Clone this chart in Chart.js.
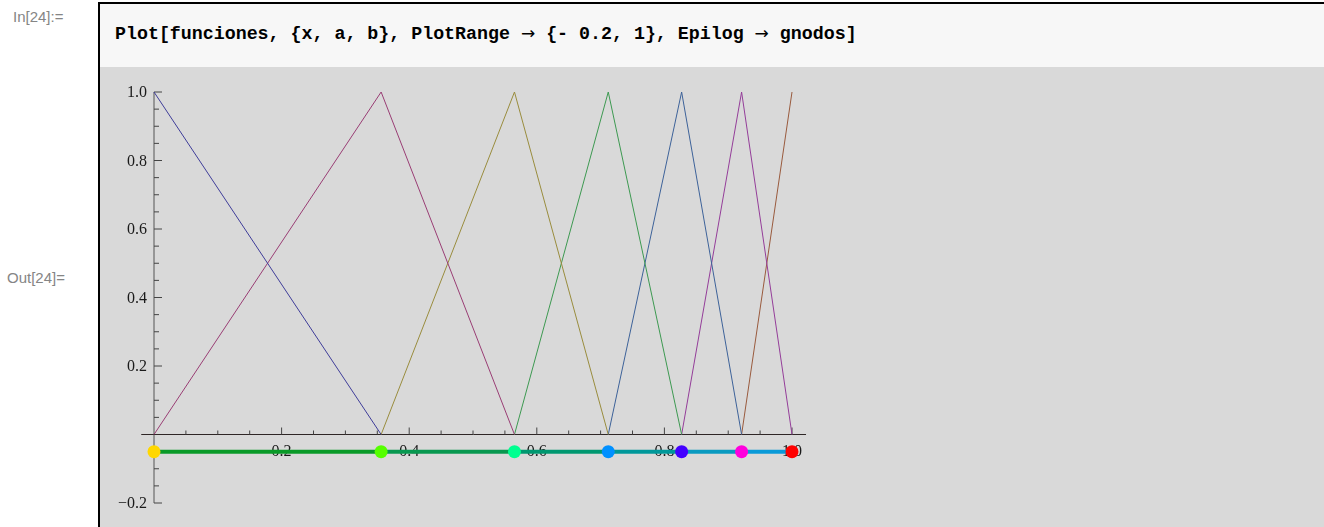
<!DOCTYPE html>
<html>
<head>
<meta charset="utf-8">
<script src="https://cdn.jsdelivr.net/npm/chart.js@4.4.1/dist/chart.umd.min.js"></script>
<style>
    body {
        margin: 0;
        width: 1324px;
        height: 527px;
        overflow: hidden;
        background: #fff;
        position: relative;
        font-family: "Liberation Sans", Arial, sans-serif;
    }
    .cell-label {
        position: absolute;
        color: #858585;
        font-size: 15px;
        line-height: 16px;
    }
    #frame {
        position: absolute;
        left: 98px;
        top: 2px;
        right: 0;
        bottom: 0;
        border-left: 2px solid #000;
        border-top: 2px solid #000;
        background: #d9d9d9;
    }
    #input {
        position: absolute;
        left: 0;
        top: 0;
        right: 0;
        height: 63px;
        background: #f7f7f7;
    }
    #code {
        position: absolute;
        left: 15px;
        top: 18px;
        font: bold 18.3px "Liberation Mono", "DejaVu Sans Mono", monospace;
        line-height: 22px;
        color: #000;
        white-space: pre;
    }
    #code .arrow {
        font-family: "DejaVu Sans", sans-serif;
        font-weight: normal;
        font-size: 17px;
    }
    #plot {
        position: absolute;
        left: 0;
        top: 0;
    }
</style>
</head>
<body>
<div class="cell-label" style="left:13px; top:9px;">In[24]:=</div>
<div id="frame">
    <div id="input"><div id="code">Plot[funciones, {x, a, b}, PlotRange <span class="arrow">→</span> {- 0.2, 1}, Epilog <span class="arrow">→</span> gnodos]</div></div>
</div>
<div class="cell-label" style="left:7px; top:270px;">Out[24]=</div>
<canvas id="plot" width="1324" height="527"></canvas>

<script>
// interpolation nodes
const nodes = [0, 0.356, 0.565, 0.712, 0.827, 0.921, 1];
const nodeLevel = -0.05;

const curveColors = ["#3f3d99", "#993d74", "#998c3d", "#3d9951", "#3d6299", "#943d99", "#995a3d"];
const nodeColors = ["#ffd700", "#55ff00", "#00ff90", "#0090ff", "#4400ff", "#ff00dd", "#ff0000"];
const segmentColors = ["#0a9a28", "#089850", "#009870", "#00989a", "#0a9ac0", "#0a9ad8"];

const xTicks = [0.2, 0.4, 0.6, 0.8, 1.0];
const xTickLabels = ["0.2", "0.4", "0.6", "0.8", "1.0"];
const yTicks = [-0.2, 0.2, 0.4, 0.6, 0.8, 1.0];
const yTickLabels = ["\u22120.2", "0.2", "0.4", "0.6", "0.8", "1.0"];

// hat function i: triangle over its neighbouring nodes
function hatPoints(i) {
    const pts = [];
    if (i > 0) pts.push({ x: nodes[i - 1], y: 0 });
    pts.push({ x: nodes[i], y: 1 });
    if (i < nodes.length - 1) pts.push({ x: nodes[i + 1], y: 0 });
    return pts;
}

// axes drawn the Mathematica way: crossing at the origin, ticks inside
const mmaAxes = {
    id: "mmaAxes",
    beforeDatasetsDraw(chart) {
        const { ctx, scales: { x, y } } = chart;
        const x0 = x.getPixelForValue(0);
        const y0 = y.getPixelForValue(0);
        ctx.save();
        ctx.lineWidth = 1;

        ctx.strokeStyle = "#555";
        ctx.beginPath();
        ctx.moveTo(x0, y.top);
        ctx.lineTo(x0, y.bottom);
        ctx.stroke();

        ctx.strokeStyle = "#2e2626";
        ctx.beginPath();
        ctx.moveTo(x.left, y0);
        ctx.lineTo(x.right, y0);
        ctx.stroke();

        ctx.strokeStyle = "#444";
        ctx.beginPath();
        for (let k = 1; k <= 20; k++) {
            const v = k * 0.05;
            const len = (k % 4 === 0) ? 7 : 4;
            const px = x.getPixelForValue(v);
            ctx.moveTo(px, y0);
            ctx.lineTo(px, y0 - len);
        }
        for (let k = -4; k <= 20; k++) {
            if (k === 0) continue;
            const v = k * 0.05;
            const len = (k % 4 === 0) ? 8 : 5;
            const py = y.getPixelForValue(v);
            ctx.moveTo(x0, py);
            ctx.lineTo(x0 + len, py);
        }
        ctx.stroke();

        ctx.fillStyle = "#1a1a1a";
        ctx.font = '16px "Liberation Serif", "Times New Roman", serif';
        ctx.textAlign = "center";
        ctx.textBaseline = "middle";
        xTicks.forEach((v, i) => {
            ctx.fillText(xTickLabels[i], x.getPixelForValue(v), y0 + 17);
        });
        ctx.textAlign = "right";
        yTicks.forEach((v, i) => {
            ctx.fillText(yTickLabels[i], x0 - 7, y.getPixelForValue(v) + 1);
        });
        ctx.restore();
    }
};

const datasets = [];

datasets.push({
    label: "gnodos",
    data: nodes.map(n => ({ x: n, y: nodeLevel })),
    borderWidth: 4,
    borderColor: segmentColors[0],
    segment: {
        borderColor: c => segmentColors[c.p0DataIndex]
    },
    pointRadius: 6.5,
    pointBorderWidth: 0,
    pointBackgroundColor: nodeColors,
    clip: false,
    order: 0
});

curveColors.forEach((color, i) => {
    datasets.push({
        label: "f" + (i + 1),
        data: hatPoints(i),
        borderColor: color,
        borderWidth: 1,
        pointRadius: 0,
        clip: false,
        order: 1
    });
});

new Chart(document.getElementById("plot").getContext("2d"), {
    type: "line",
    data: { datasets: datasets },
    options: {
        responsive: false,
        animation: false,
        devicePixelRatio: 1,
        events: [],
        layout: {
            padding: { left: 141.24, right: 517.96, top: 92, bottom: 24 }
        },
        scales: {
            x: { type: "linear", min: -0.02, max: 1.022, display: false },
            y: { type: "linear", min: -0.2, max: 1.0, display: false }
        },
        plugins: {
            legend: { display: false },
            tooltip: { enabled: false }
        }
    },
    plugins: [mmaAxes]
});
</script>
</body>
</html>
